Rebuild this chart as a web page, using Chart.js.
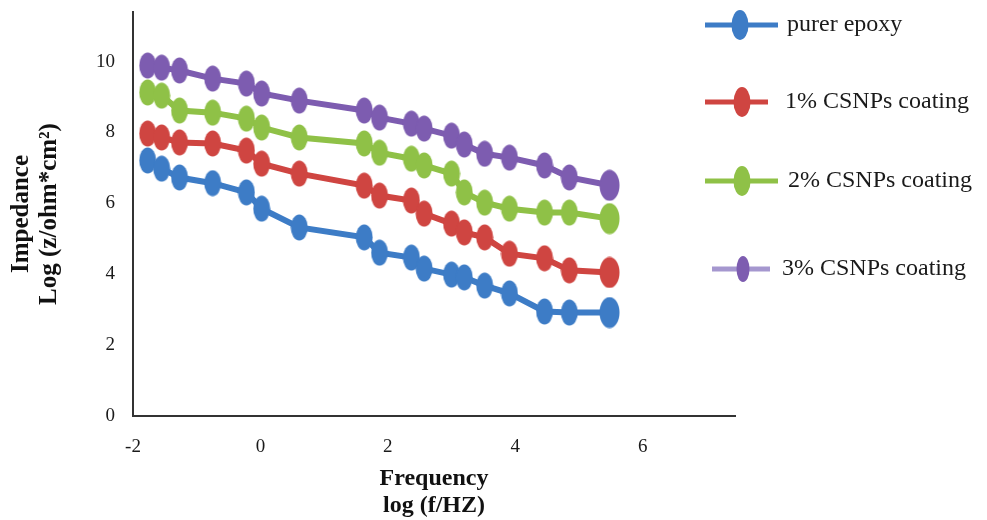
<!DOCTYPE html>
<html>
<head>
<meta charset="utf-8">
<script src="https://cdn.jsdelivr.net/npm/chart.js@4.4.0/dist/chart.umd.min.js"></script>
<style>
  html, body { margin: 0; padding: 0; background: #fff; }
  #wrap { width: 987px; height: 520px; position: relative; }
</style>
</head>
<body>
<div id="wrap"><canvas id="chart" width="987" height="520"></canvas></div>
<script>
// log(f/Hz) positions
const freqLog = [-1.77, -1.55, -1.27, -0.75, -0.22, 0.02, 0.61, 1.63, 1.87, 2.37, 2.57, 3.0, 3.2, 3.52, 3.91, 4.46, 4.85, 5.48];

// log impedance for each coating
const pureEpoxy = [7.21, 6.98, 6.73, 6.57, 6.31, 5.85, 5.32, 5.04, 4.61, 4.47, 4.16, 3.99, 3.91, 3.68, 3.46, 2.95, 2.92, 2.92];
const csnp1 = [7.97, 7.86, 7.72, 7.69, 7.49, 7.12, 6.84, 6.50, 6.22, 6.08, 5.71, 5.43, 5.18, 5.04, 4.58, 4.45, 4.11, 4.05];
const csnp2 = [9.13, 9.04, 8.62, 8.56, 8.39, 8.14, 7.86, 7.69, 7.43, 7.26, 7.07, 6.84, 6.31, 6.02, 5.85, 5.74, 5.74, 5.57];
const csnp3 = [9.89, 9.83, 9.75, 9.52, 9.38, 9.10, 8.90, 8.62, 8.42, 8.25, 8.11, 7.91, 7.66, 7.40, 7.29, 7.07, 6.73, 6.51];

const seriesLabels = ["purer epoxy", "1% CSNPs coating", "2% CSNPs coating", "3% CSNPs coating"];
const seriesValues = [pureEpoxy, csnp1, csnp2, csnp3];
const seriesColors = ["#3d7cc6", "#cf4541", "#8fc147", "#7d5cb0"];

const xTicks = [-2, 0, 2, 4, 6];
const yTicks = [0, 2, 4, 6, 8, 10];

const serif = "'Liberation Serif', 'Times New Roman', serif";

// vertical ellipse used as marker
function makeMarker(color, w, h) {
  const c = document.createElement('canvas');
  c.width = w;
  c.height = h;
  const g = c.getContext('2d');
  g.fillStyle = color;
  g.beginPath();
  g.ellipse(w / 2, h / 2, w / 2 - 0.5, h / 2 - 0.5, 0, 0, Math.PI * 2);
  g.fill();
  return c;
}

const datasets = seriesValues.map((vals, i) => {
  const small = makeMarker(seriesColors[i], 18, 27);
  const big = makeMarker(seriesColors[i], 21, 32);
  return {
    label: seriesLabels[i],
    data: vals.map((v, k) => ({ x: freqLog[k], y: v })),
    borderColor: seriesColors[i],
    backgroundColor: seriesColors[i],
    borderWidth: 6,
    tension: 0,
    pointStyle: ctx => (ctx.dataIndex === vals.length - 1 ? big : small)
  };
});

// legend drawn on the right like the original
const legendItems = [
  { y: 25, x0: 705, x1: 778, mx: 740, tx: 787, line: "#3d7cc6", mw: 17, mh: 30 },
  { y: 102, x0: 705, x1: 768, mx: 742, tx: 785, line: "#cf4541", mw: 17, mh: 30 },
  { y: 181, x0: 705, x1: 778, mx: 742, tx: 788, line: "#8fc147", mw: 17, mh: 30 },
  { y: 269, x0: 712, x1: 770, mx: 743, tx: 782, line: "#a597cf", mw: 13, mh: 26 }
];

const sideLegend = {
  id: 'sideLegend',
  afterDraw(chart) {
    const ctx = chart.ctx;
    ctx.save();
    legendItems.forEach((it, i) => {
      ctx.strokeStyle = it.line;
      ctx.lineWidth = 5;
      ctx.beginPath();
      ctx.moveTo(it.x0, it.y);
      ctx.lineTo(it.x1, it.y);
      ctx.stroke();
      ctx.fillStyle = seriesColors[i];
      ctx.beginPath();
      ctx.ellipse(it.mx, it.y, it.mw / 2, it.mh / 2, 0, 0, Math.PI * 2);
      ctx.fill();
      ctx.fillStyle = '#1a1a1a';
      ctx.font = '24px ' + serif;
      ctx.textBaseline = 'middle';
      ctx.fillText(seriesLabels[i], it.tx, it.y);
    });
    ctx.restore();
  }
};

new Chart(document.getElementById('chart').getContext('2d'), {
  type: 'line',
  data: { datasets: datasets },
  plugins: [sideLegend],
  options: {
    responsive: false,
    animation: false,
    layout: { padding: { top: 12, right: 252, left: 0, bottom: 0 } },
    plugins: {
      legend: { display: false },
      tooltip: { enabled: false }
    },
    scales: {
      x: {
        type: 'linear',
        min: -2,
        max: 7.45,
        afterFit: s => { s.height = 104; s.paddingLeft = 0; s.paddingRight = 0; },
        afterBuildTicks: s => { s.ticks = xTicks.map(v => ({ value: v })); },
        grid: { display: false },
        border: { display: true, color: '#333', width: 2 },
        ticks: { color: '#1a1a1a', padding: 12, font: { family: serif, size: 19 } },
        title: {
          display: true,
          text: ['Frequency', 'log (f/HZ)'],
          color: '#111',
          padding: { top: 0, bottom: 1 },
          font: { family: serif, size: 24, weight: 'bold', lineHeight: 1.12 }
        }
      },
      y: {
        type: 'linear',
        min: 0,
        max: 11.4,
        afterFit: s => { s.width = 133; s.paddingTop = 0; s.paddingBottom = 0; },
        afterBuildTicks: s => { s.ticks = yTicks.map(v => ({ value: v })); },
        grid: { display: false },
        border: { display: true, color: '#333', width: 2 },
        ticks: { color: '#1a1a1a', padding: 10, font: { family: serif, size: 19 } },
        title: {
          display: true,
          text: ['Impedance', 'Log (z/ohm*cm²)'],
          color: '#111',
          padding: { top: 8, bottom: 0 },
          font: { family: serif, size: 25, weight: 'bold', lineHeight: 1.12 }
        }
      }
    }
  }
});
</script>
</body>
</html>
